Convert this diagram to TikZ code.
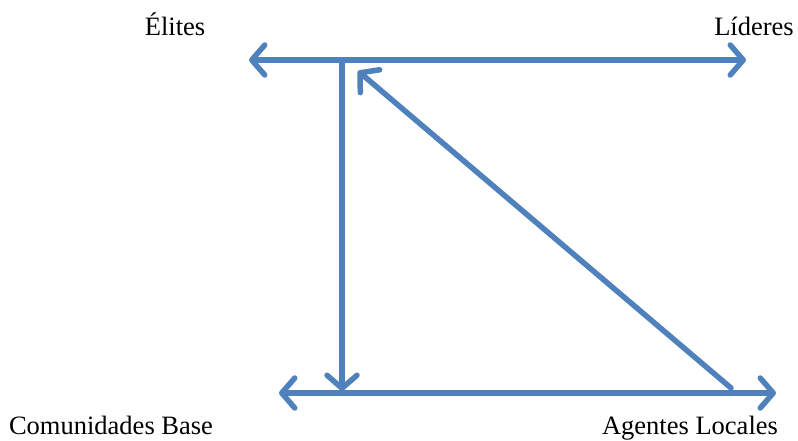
\documentclass[tikz,border=0pt]{standalone}
\usepackage{fontspec}
\setmainfont{Liberation Serif}
\usetikzlibrary{arrows.meta}
\definecolor{arrowblue}{HTML}{4F81BD}
\tikzset{
  tip/.tip={Straight Barb[round, length=13pt, width=30pt, line width=5.5pt]},
  conn/.style={draw=arrowblue, line width=5.5pt, line cap=round, -tip},
  conn2/.style={draw=arrowblue, line width=5.5pt, line cap=round, tip-tip},
  lbl/.style={font=\fontsize{26.5}{30}\selectfont, inner sep=0pt, text=black, anchor=base}
}
\begin{document}
\begin{tikzpicture}[x=1pt,y=-1pt]
\useasboundingbox (0,0) rectangle (798,441);
\node[lbl] (elites) at (175,36) {Élites};
\node[lbl] (lideres) at (754,36) {Líderes};
\node[lbl] (comun) at (111,434) {Comunidades Base};
\node[lbl] (agentes) at (690,434) {Agentes Locales};
\coordinate (tl) at (249,60);
\coordinate (tr) at (746,60);
\coordinate (tj) at (342,60);
\coordinate (bj) at (342,391);
\coordinate (bl) at (279,393);
\coordinate (br) at (776,393);
\coordinate (ds) at (731,388);
\coordinate (de) at (358,71);
\draw[conn2] (tl) -- (tr);
\draw[conn2] (bl) -- (br);
\draw[conn] (tj) -- (bj);
\draw[conn] (ds) -- (de);
\end{tikzpicture}
\end{document}
